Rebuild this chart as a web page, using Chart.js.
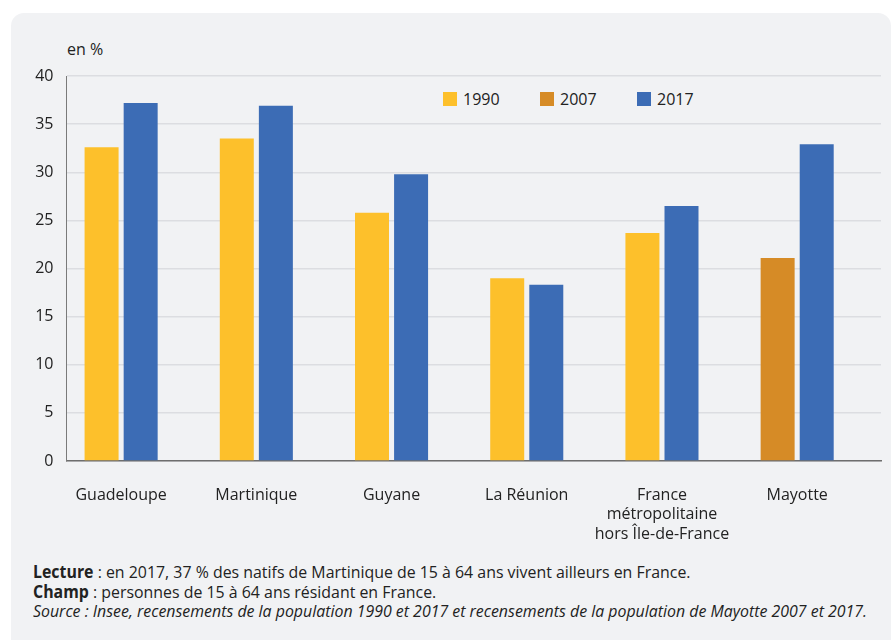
<!DOCTYPE html>
<html lang="fr">
<head>
<meta charset="utf-8">
<script src="https://cdn.jsdelivr.net/npm/chart.js@4.4.1/dist/chart.umd.min.js"></script>
<style>
  body { margin: 0; background: #fff; font-family: "Open Sans", sans-serif; color: #222; }
  #panel { position: absolute; left: 11px; top: 13px; width: 880px; height: 660px; background: #f1f2f4; border-radius: 13px; }
  #wrap { position: absolute; left: 0; top: 0; width: 893px; height: 545px; }
  #unit { position: absolute; left: 67px; top: 38px; font-size: 16px; }
  #legend { position: absolute; left: 443px; top: 88px; display: flex; font-size: 16px; }
  #legend .item { display: flex; align-items: center; width: 97px; }
  #legend .box { width: 14px; height: 14px; margin-right: 6px; }
  #notes { position: absolute; left: 33px; top: 562px; font-size: 17px; line-height: 19.5px; color: #222;
           white-space: nowrap; transform: scaleX(0.935); transform-origin: 0 0; }
  #notes b { font-weight: bold; }
</style>
</head>
<body>
<div id="panel"></div>
<div id="unit">en %</div>
<div id="legend"></div>
<div id="wrap"><canvas id="chart"></canvas></div>
<div id="notes">
  <div><b>Lecture</b> : en 2017, 37 % des natifs de Martinique de 15 à 64 ans vivent ailleurs en France.</div>
  <div><b>Champ</b> : personnes de 15 à 64 ans résidant en France.</div>
  <div><i>Source : Insee, recensements de la population 1990 et 2017 et recensements de la population de Mayotte 2007 et 2017.</i></div>
</div>
<script>
// categories and values (share in %)
const categories = ['Guadeloupe', 'Martinique', 'Guyane', 'La Réunion', ['France', 'métropolitaine', 'hors Île-de-France'], 'Mayotte'];
const values1990 = [32.6, 33.5, 25.8, 19.0, 23.7, null];
const values2007 = [null, null, null, null, null, 21.1];
const values2017 = [37.2, 36.9, 29.8, 18.3, 26.5, 32.9];
const yTicks = [0, 5, 10, 15, 20, 25, 30, 35, 40];

const series = [
    { label: '1990', values: values1990, color: '#fdc02b' },
    { label: '2007', values: values2007, color: '#d68b26' },
    { label: '2017', values: values2017, color: '#3c6cb5' }
];

const datasets = series.map(s => ({
    label: s.label,
    data: s.values.map((v, i) => ({ x: i, y: v })),
    backgroundColor: s.color,
    borderWidth: 0,
    skipNull: true,
    categoryPercentage: 0.578,
    barPercentage: 0.87
}));

const ctx = document.getElementById('chart').getContext('2d');
new Chart(ctx, {
    type: 'bar',
    data: { datasets: datasets },
    options: {
        responsive: true,
        maintainAspectRatio: false,
        animation: false,
        layout: { padding: { left: 0, top: 76, right: 12, bottom: 0 } },
        plugins: {
            legend: { display: false },
            tooltip: { enabled: false }
        },
        scales: {
            x: {
                type: 'linear',
                offset: false,
                min: -0.404,
                max: 5.62,
                afterBuildTicks: axis => { axis.ticks = categories.map((c, i) => ({ value: i })); },
                afterFit: axis => { axis.height = 84; },
                grid: { display: false, drawTicks: false },
                border: { display: true, color: '#6e6e6e', width: 1.5 },
                ticks: {
                    padding: 25,
                    maxRotation: 0,
                    autoSkip: false,
                    color: '#222',
                    font: { family: 'Open Sans', size: 16 },
                    callback: value => categories[value]
                }
            },
            y: {
                min: 0,
                max: 40,
                afterBuildTicks: axis => { axis.ticks = yTicks.map(v => ({ value: v })); },
                afterFit: axis => { axis.width = 66.5; },
                grid: { color: '#dcdde1', lineWidth: 1.5, drawTicks: false },
                border: { display: true, color: '#7a7a7a', width: 1 },
                ticks: {
                    padding: 13,
                    color: '#222',
                    font: { family: 'Open Sans', size: 16 }
                }
            }
        }
    }
});

// legend as html, built from the series
const legend = document.getElementById('legend');
series.forEach(s => {
    const item = document.createElement('div');
    item.className = 'item';
    item.innerHTML = `<span class="box" style="background:${s.color}"></span><span>${s.label}</span>`;
    legend.appendChild(item);
});
</script>
</body>
</html>
